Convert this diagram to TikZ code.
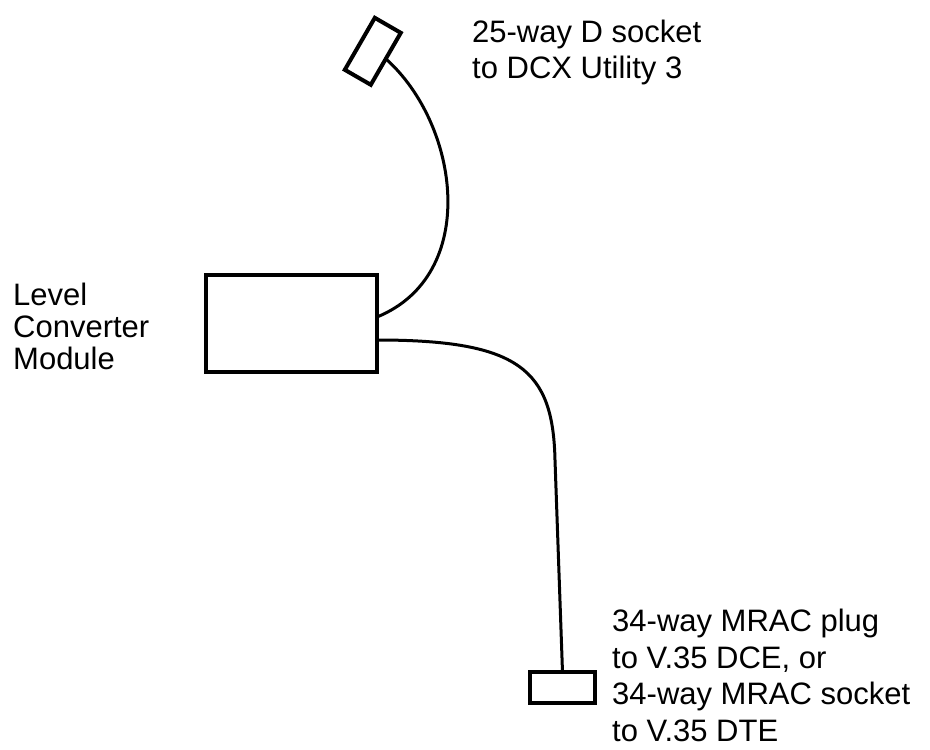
\documentclass[tikz,border=0pt]{standalone}
\usepackage{fontspec}
\setmainfont{Liberation Sans}
\usepackage{tikz}
\usetikzlibrary{positioning, calc}

\begin{document}
\begin{tikzpicture}[x=1pt, y=-1pt,
    module/.style={rectangle, draw=black, line width=4.5pt, inner sep=0pt, outer sep=0pt,
                   minimum width=171pt, minimum height=97pt},
    plug/.style={rectangle, draw=black, line width=4pt, inner sep=0pt, outer sep=0pt},
    cable/.style={draw=black, line width=3pt},
    lbl/.style={font=\fontsize{31}{#1}\selectfont, align=left, inner sep=0pt,
                anchor=base west}
]
\useasboundingbox (0,0) rectangle (930,750);

\node[module] (lcm) at (291.5, 323.5) {};
\node[plug, minimum width=60pt, minimum height=30pt, rotate=60] (dsock) at (372.8, 51.3) {};
\node[plug, minimum width=65pt, minimum height=31pt] (mrac) at (562.5, 687.5) {};

\coordinate (lcmtop) at ([yshift=6.5pt]lcm.east);
\coordinate (lcmbot) at ([yshift=-16.5pt]lcm.east);
\coordinate (bend) at (555, 460);

\draw[cable] (dsock.south) .. controls (460,125) and (480,275) .. (lcmtop);
\draw[cable] (lcmbot) .. controls (520,340) and (553,370) .. (bend) -- (mrac.north);

\node[lbl=36] (dsocklbl) at (472, 78) {25-way D socket\\to DCX Utility 3};
\node[lbl=32] (lcmlbl)   at (13, 369) {Level\\Converter\\Module};
\node[lbl=36.5] (mraclbl)  at (612, 741) {34-way MRAC plug\\to V.35 DCE, or\\34-way MRAC socket\\to V.35 DTE};
\end{tikzpicture}
\end{document}
